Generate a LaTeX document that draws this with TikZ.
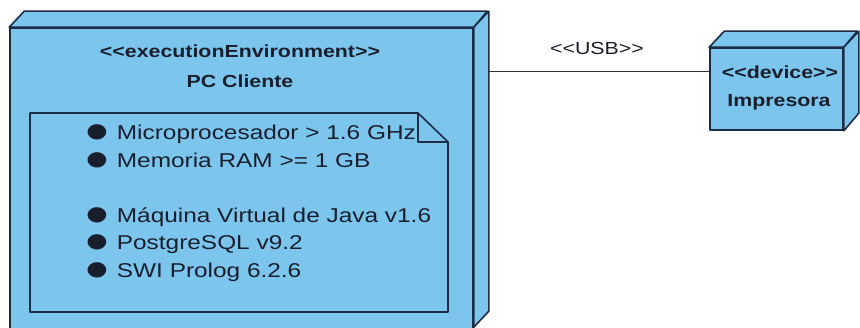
\documentclass[tikz,border=0pt]{standalone}
\usepackage{fontspec}
\usepackage{graphicx}
\usetikzlibrary{calc}
\setmainfont{Liberation Sans}
\newfontfamily\symfont{DejaVu Sans}
\newcommand{\stretchtxt}[1]{\scalebox{1.22}[1]{#1}}
\definecolor{nodeblue}{RGB}{124,198,238}
\definecolor{edgeblue}{RGB}{28,44,70}
\definecolor{textdark}{RGB}{25,30,45}
\definecolor{linkgray}{RGB}{50,50,50}
\tikzset{
  face/.style={fill=nodeblue, draw=edgeblue, line width=1.6pt, line join=round},
  frontface/.style={face, rectangle, inner sep=0pt},
  head/.style={font=\fontsize{17.5}{20}\selectfont\bfseries, text=textdark, inner sep=0pt, anchor=base},
  label/.style={font=\fontsize{17.5}{20}\selectfont, text=textdark, inner sep=0pt, anchor=base},
  item/.style={font=\fontsize{20}{24}\selectfont, text=textdark, inner sep=0pt, anchor=base west},
  dot/.style={font=\fontsize{20}{24}\selectfont\symfont, text=textdark, inner sep=0pt, anchor=center},
  link/.style={draw=linkgray, line width=1.2pt}
}
\begin{document}
\begin{tikzpicture}[x=1pt, y=-1pt]
\useasboundingbox (0,0) rectangle (860,328);
\fill[white] (0,0) rectangle (860,328);

% execution environment node: front face (runs past the lower edge), top face, side face
\node[frontface, minimum width=463pt, minimum height=304pt] (pc) at (241.5,180) {};
\path[face] (pc.north west) -- ++(15,-16) -- ++(463,0) -- (pc.north east) -- cycle;
\path[face] (pc.north east) -- ++(15,-16) -- ++(0,300) -- ++(-15,16) -- cycle;

\node[head] (pcstereo) at (240,58) {\stretchtxt{<{}<executionEnvironment>{}>}};
\node[head] (pcname) at (240,88) {\stretchtxt{PC Cliente}};

% note with folded corner
\path[face] (30,113) -- (418,113) -- (448,142) -- (448,312) -- (30,312) -- cycle;
\draw[edgeblue, line width=1.6pt, line join=round] (418,113) -- (418,142) -- (448,142);

% requirement list
\node[dot] (b1) at (97,132) {\stretchtxt{●}};
\node[dot] (b2) at (97,160) {\stretchtxt{●}};
\node[dot] (b3) at (97,215) {\stretchtxt{●}};
\node[dot] (b4) at (97,242) {\stretchtxt{●}};
\node[dot] (b5) at (97,270) {\stretchtxt{●}};
\node[item] (i1) at (116.7,140) {\stretchtxt{Microprocesador > 1.6 GHz}};
\node[item] (i2) at (116.7,168) {\stretchtxt{Memoria RAM >= 1 GB}};
\node[item] (i3) at (116.7,223) {\stretchtxt{Máquina Virtual de Java v1.6}};
\node[item] (i4) at (116.7,250) {\stretchtxt{PostgreSQL v9.2}};
\node[item] (i5) at (116.7,278) {\stretchtxt{SWI Prolog 6.2.6}};

% device node
\node[frontface, minimum width=133pt, minimum height=82pt] (dev) at (776.5,89) {};
\path[face] (dev.north west) -- ++(15,-16) -- ++(133,0) -- (dev.north east) -- cycle;
\path[face] (dev.north east) -- ++(15,-16) -- ++(0,82) -- (dev.south east) -- cycle;
\node[head] (devstereo) at (780,79) {\stretchtxt{<{}<device>{}>}};
\node[head] (devname) at (779,107) {\stretchtxt{Impresora}};

% USB communication path
\coordinate (pcport) at ($(pc.north east)+(15,44)$);
\draw[link] (pcport) -- (pcport -| dev.west);
\node[label] (usb) at (597,55) {\stretchtxt{<{}<USB>{}>}};
\end{tikzpicture}
\end{document}
